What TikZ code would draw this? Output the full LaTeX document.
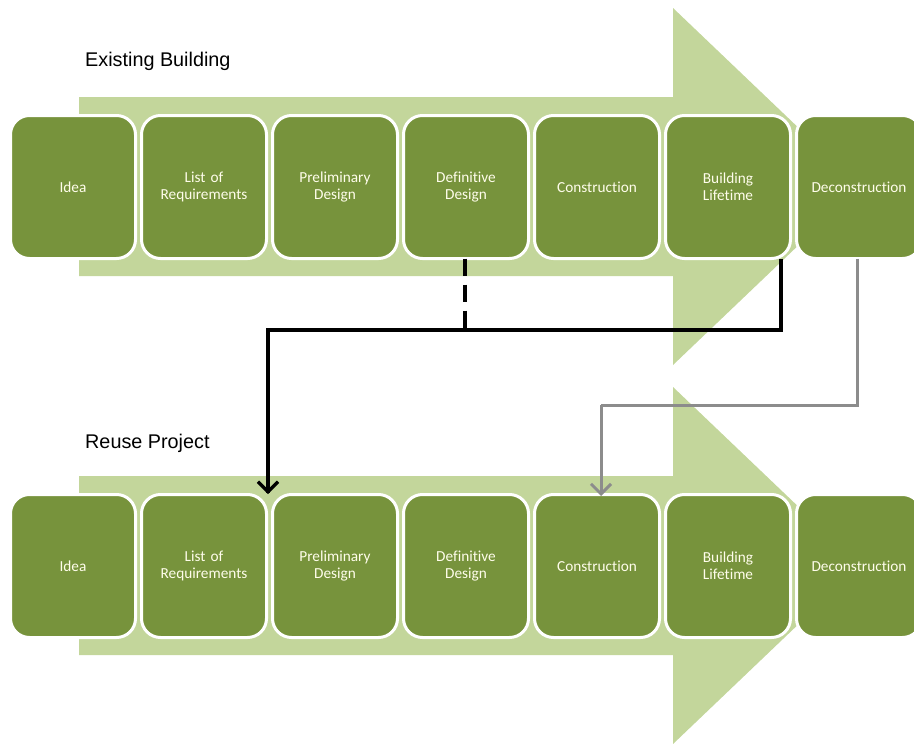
\documentclass[tikz,border=0pt]{standalone}
\usepackage{fontspec}
\setmainfont{Liberation Sans}
\newfontfamily\stagefont[Ligatures=NoCommon]{Carlito}
\usetikzlibrary{arrows.meta,calc}

\definecolor{stagegreen}{HTML}{77933C}
\definecolor{bandgreen}{HTML}{C3D69B}
\definecolor{linkgray}{HTML}{8C8C8C}
\definecolor{stagetext}{HTML}{FFFDEB}

\begin{document}
\begin{tikzpicture}[x=1pt,y=-1pt,
  stage/.style={rectangle, rounded corners=19pt, fill=stagegreen, draw=white,
    line width=3pt, minimum width=125pt, minimum height=143pt,
    text width=118pt, align=center, inner sep=0pt, text=stagetext,
    font=\stagefont\fontsize{15.3}{17}\selectfont},
  rowtitle/.style={anchor=west, inner sep=0pt, font=\fontsize{19.8}{22}\selectfont},
  band/.style={fill=bandgreen, draw=none},
  link/.style={line width=3.3pt, black},
  reuse/.style={line width=3pt, linkgray},
  barb/.style={-{Straight Barb[length=10pt,width=20pt]}}
]
\useasboundingbox (0,0) rectangle (914,744);

% background process arrows
\foreach \dy in {0,379}{
  \fill[band] (79,97+\dy) -- (673,97+\dy) -- (673,8+\dy) -- (860,186.5+\dy)
    -- (673,365+\dy) -- (673,276+\dy) -- (79,276+\dy) -- cycle;
}

% row titles
\node[rowtitle] (t1) at (85,61) {Existing Building};
\node[rowtitle] (t2) at (85,443) {Reuse Project};

% existing building stages
\node[stage] (a1) at (73,187)  {Idea};
\node[stage] (a2) at (204,187) {List of\\Requirements};
\node[stage] (a3) at (335,187) {Preliminary\\Design};
\node[stage] (a4) at (466,187) {Definitive\\Design};
\node[stage] (a5) at (597,187) {Construction};
\node[stage] (a6) at (728,187) {Building\\Lifetime};
\node[stage] (a7) at (859,187) {Deconstruction};

% reuse project stages
\node[stage] (b1) at (73,566)  {Idea};
\node[stage] (b2) at (204,566) {List of\\Requirements};
\node[stage] (b3) at (335,566) {Preliminary\\Design};
\node[stage] (b4) at (466,566) {Definitive\\Design};
\node[stage] (b5) at (597,566) {Construction};
\node[stage] (b6) at (728,566) {Building\\Lifetime};
\node[stage] (b7) at (859,566) {Deconstruction};

% routing points
\coordinate (jn)  at (465,330);
\coordinate (jr)  at (781,330);
\coordinate (jl)  at (268,330);
\coordinate (g1)  at (857,405);
\coordinate (g2)  at (601,405);

% design knowledge and lifetime data feed the new requirements
\draw[link, dash pattern=on 17pt off 9pt] ([xshift=-1pt,yshift=1.5pt]a4.south) -- (jn);
\draw[link] ([yshift=1.5pt]a6.south -| jr) -- (jr) -- (jl) -- (jl |- b2.north);
\draw[link, barb] (jl) -- ([yshift=-1pt]jl |- b2.north);

% deconstructed elements go to the new construction
\draw[reuse] ([yshift=1.5pt]a7.south -| g1) -- (g1) -- (g2);
\draw[reuse, barb] (g2) -- ([yshift=-3pt]g2 |- b5.north);
\end{tikzpicture}
\end{document}
